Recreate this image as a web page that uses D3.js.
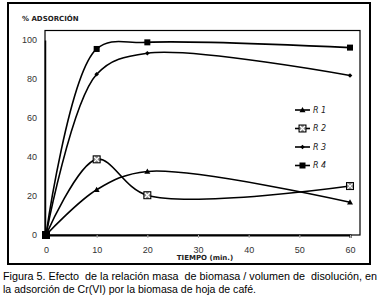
<!DOCTYPE html>
<html lang="es">
<head>
<meta charset="UTF-8">
<title>Figura 5</title>
<style>
  body { margin: 0; background: #fff; }
  svg { display: block; font-family: "DejaVu Sans", sans-serif; }
  .tick text { fill: #333; font-size: 9px; }
  .caption { white-space: pre; font-family: "Liberation Sans", Arial, sans-serif; }
</style>
</head>
<body>
<svg width="384" height="307"></svg>
<script src="https://cdn.jsdelivr.net/npm/d3@7"></script>
<script>
// tiempo (min.)
var tiempo = [0, 10, 20, 60];
var seriesNames = ["R 1", "R 2", "R 3", "R 4"];
var r1 = [0, 23.2, 32.6, 16.8];
var r2 = [0, 38.8, 20.4, 25.1];
var r3 = [0, 82.4, 93.2, 81.8];
var r4 = [0, 95.4, 98.8, 96.1];
var xTicks = [0, 10, 20, 30, 40, 50, 60];
var yTicks = [0, 20, 40, 60, 80, 100];

var series = [
  {name: seriesNames[0], values: r1, marker: "triangle"},
  {name: seriesNames[1], values: r2, marker: "xbox"},
  {name: seriesNames[2], values: r3, marker: "diamond"},
  {name: seriesNames[3], values: r4, marker: "square"}
];

var svg = d3.select("svg");

// outer frame
svg.append("rect")
  .attr("x", 8).attr("y", 3).attr("width", 362).attr("height", 261)
  .attr("fill", "none").attr("stroke", "#000").attr("stroke-width", 2);

var x = d3.scaleLinear().domain([0, 60]).range([46, 350]);
var y = d3.scaleLinear().domain([0, 100]).range([235, 40]);

// plot area border
svg.append("rect")
  .attr("x", 45).attr("y", 30.5).attr("width", 315).attr("height", 204.5)
  .attr("fill", "none").attr("stroke", "#000").attr("stroke-width", 1.2);

svg.append("g")
  .attr("transform", "translate(0,235)")
  .call(d3.axisBottom(x).tickValues(xTicks).tickSize(3).tickPadding(9))
  .call(function(g) {
    g.select(".domain").attr("stroke-width", 2);
    g.selectAll(".tick line").attr("stroke", "#aaa");
  });

svg.append("g")
  .attr("transform", "translate(45,0)")
  .call(d3.axisLeft(y).tickValues(yTicks).tickSize(0).tickPadding(8))
  .call(function(g) {
    g.select(".domain").attr("stroke-width", 1.5);
  });

svg.append("text")
  .attr("x", 22).attr("y", 21)
  .attr("font-size", 7).attr("font-weight", "bold").attr("fill", "#222")
  .text("% ADSORCIÓN");

svg.append("text")
  .attr("x", 205).attr("y", 260).attr("text-anchor", "middle")
  .attr("font-size", 7).attr("font-weight", "bold").attr("fill", "#222")
  .text("TIEMPO (min.)");

var line = d3.line()
  .x(function(d) { return x(d[0]); })
  .y(function(d) { return y(d[1]); })
  .curve(d3.curveCatmullRom.alpha(0.5));

function drawMarker(g, type) {
  if (type === "triangle") {
    g.append("path").attr("d", "M0,-3L3,2.2L-3,2.2Z").attr("fill", "#000");
  } else if (type === "xbox") {
    g.append("rect").attr("x", -3.5).attr("y", -3.5).attr("width", 7).attr("height", 7)
      .attr("fill", "#888").attr("stroke", "#000").attr("stroke-width", 1);
    g.append("path").attr("d", "M-2.5,-2.5L2.5,2.5M2.5,-2.5L-2.5,2.5")
      .attr("stroke", "#fff").attr("stroke-width", 1.2);
  } else if (type === "diamond") {
    g.append("path").attr("d", "M0,-2.3L2.3,0L0,2.3L-2.3,0Z").attr("fill", "#000");
  } else {
    g.append("rect").attr("x", -3).attr("y", -3).attr("width", 6).attr("height", 6).attr("fill", "#000");
  }
}

series.forEach(function(s) {
  var pts = tiempo.map(function(t, i) { return [t, s.values[i]]; });
  svg.append("path")
    .datum(pts)
    .attr("d", line)
    .attr("fill", "none").attr("stroke", "#000").attr("stroke-width", 1.6);
  pts.forEach(function(p) {
    var g = svg.append("g").attr("transform", "translate(" + x(p[0]) + "," + y(p[1]) + ")");
    drawMarker(g, s.marker);
  });
});

// legend
var legendY = [110, 128.5, 147, 165.5];
series.forEach(function(s, i) {
  var g = svg.append("g").attr("transform", "translate(295," + legendY[i] + ")");
  g.append("line").attr("x1", 0).attr("x2", 15).attr("stroke", "#000").attr("stroke-width", 1.6);
  var m = g.append("g").attr("transform", "translate(7.5,0)");
  drawMarker(m, s.marker);
  g.append("text").attr("x", 18).attr("dy", "0.35em")
    .attr("font-size", 8).attr("font-style", "italic").attr("fill", "#222")
    .text(s.name);
});

// caption
svg.append("text").attr("class", "caption")
  .attr("x", 3).attr("y", 280).attr("font-size", 10.5).attr("fill", "#000")
  .attr("textLength", 374).attr("lengthAdjust", "spacingAndGlyphs")
  .text("Figura 5. Efecto  de la relación masa  de biomasa / volumen de  disolución, en");
svg.append("text").attr("class", "caption")
  .attr("x", 3).attr("y", 293).attr("font-size", 10.5).attr("fill", "#000")
  .attr("textLength", 253).attr("lengthAdjust", "spacingAndGlyphs")
  .text("la adsorción de Cr(VI) por la biomasa de hoja de café.");
</script>
</body>
</html>
